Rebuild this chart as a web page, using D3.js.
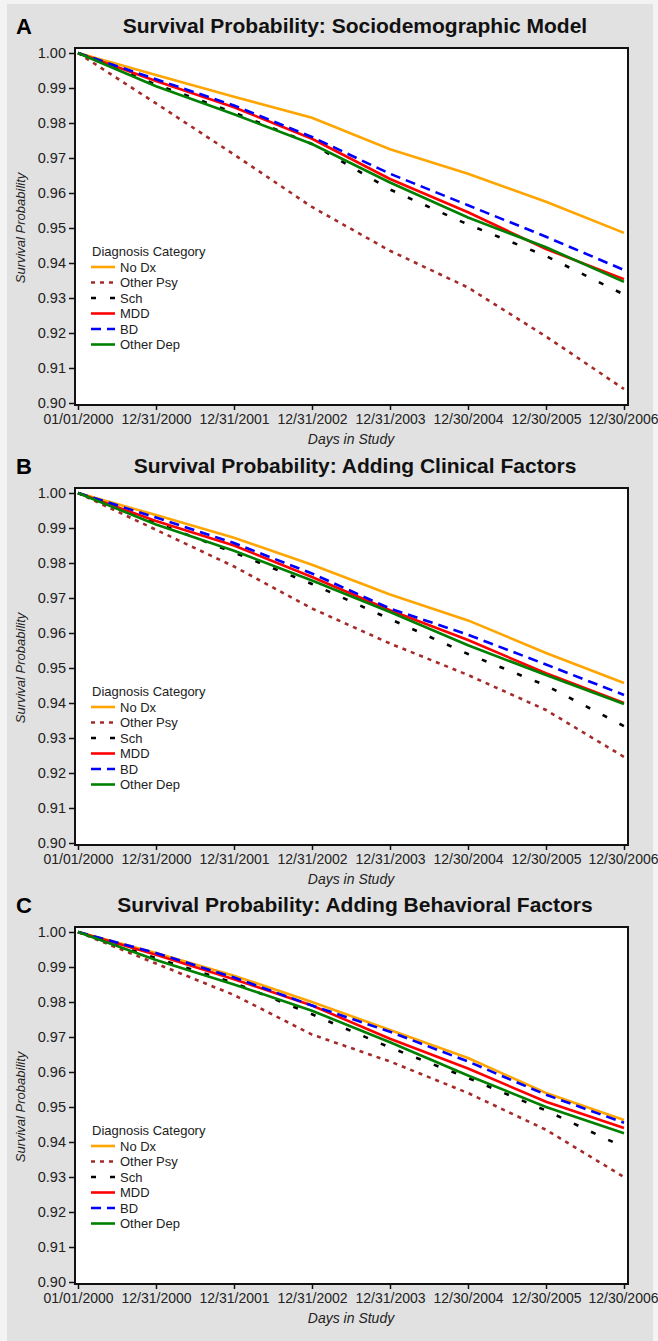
<!DOCTYPE html>
<html>
<head>
<meta charset="utf-8">
<script src="https://cdn.jsdelivr.net/npm/d3@7"></script>
<style>
  body { margin: 0; background: #f3f3f3; }
  svg { display: block; font-family: "Liberation Sans", Arial, Helvetica, sans-serif; }
</style>
</head>
<body>
<div id="chart"></div>
<script>
// ---- data ----
var dayTicks = [0, 365, 730, 1095, 1460, 1825, 2190, 2555];
var tickLabels = ["01/01/2000", "12/31/2000", "12/31/2001", "12/31/2002",
                  "12/31/2003", "12/30/2004", "12/30/2005", "12/30/2006"];
var yTicks = [0.90, 0.91, 0.92, 0.93, 0.94, 0.95, 0.96, 0.97, 0.98, 0.99, 1.00];

var categories = ["No Dx", "Other Psy", "Sch", "MDD", "BD", "Other Dep"];
var panelLetters = ["A", "B", "C"];
var panelTitles = ["Survival Probability: Sociodemographic Model",
                   "Survival Probability: Adding Clinical Factors",
                   "Survival Probability: Adding Behavioral Factors"];

// survival probability at each tick date, one array per category
var noDxA     = [1.000, 0.9937, 0.9875, 0.9815, 0.9725, 0.9655, 0.9575, 0.9486];
var otherPsyA = [1.000, 0.9856, 0.9710, 0.9560, 0.9435, 0.9330, 0.9190, 0.9040];
var schA      = [1.000, 0.9910, 0.9830, 0.9740, 0.9610, 0.9510, 0.9420, 0.9310];
var mddA      = [1.000, 0.9920, 0.9845, 0.9755, 0.9640, 0.9545, 0.9440, 0.9354];
var bdA       = [1.000, 0.9925, 0.9850, 0.9760, 0.9655, 0.9565, 0.9475, 0.9380];
var otherDepA = [1.000, 0.9905, 0.9825, 0.9740, 0.9630, 0.9530, 0.9445, 0.9346];

var noDxB     = [1.000, 0.9937, 0.9872, 0.9795, 0.9710, 0.9636, 0.9543, 0.9457];
var otherPsyB = [1.000, 0.9895, 0.9790, 0.9670, 0.9570, 0.9480, 0.9380, 0.9246];
var schB      = [1.000, 0.9915, 0.9830, 0.9740, 0.9640, 0.9540, 0.9450, 0.9334];
var mddB      = [1.000, 0.9920, 0.9850, 0.9760, 0.9665, 0.9580, 0.9485, 0.9400];
var bdB       = [1.000, 0.9930, 0.9857, 0.9770, 0.9670, 0.9595, 0.9510, 0.9423];
var otherDepB = [1.000, 0.9910, 0.9835, 0.9750, 0.9660, 0.9565, 0.9480, 0.9397];

var noDxC     = [1.000, 0.9940, 0.9875, 0.9800, 0.9720, 0.9640, 0.9540, 0.9463];
var otherPsyC = [1.000, 0.9910, 0.9820, 0.9707, 0.9630, 0.9540, 0.9435, 0.9300];
var schC      = [1.000, 0.9925, 0.9855, 0.9765, 0.9670, 0.9583, 0.9490, 0.9385];
var mddC      = [1.000, 0.9935, 0.9865, 0.9790, 0.9695, 0.9610, 0.9515, 0.9440];
var bdC       = [1.000, 0.9940, 0.9870, 0.9790, 0.9715, 0.9630, 0.9535, 0.9455];
var otherDepC = [1.000, 0.9920, 0.9850, 0.9775, 0.9685, 0.9590, 0.9500, 0.9425];

var panelSeries = [
  [noDxA, otherPsyA, schA, mddA, bdA, otherDepA],
  [noDxB, otherPsyB, schB, mddB, bdB, otherDepB],
  [noDxC, otherPsyC, schC, mddC, bdC, otherDepC]
];

// ---- styling ----
var lineStyles = [
  {color: "#ffa500", dash: null},
  {color: "#a52a2a", dash: "4,5"},
  {color: "#000000", dash: "5,14"},
  {color: "#ff0000", dash: null},
  {color: "#0000ff", dash: "10,6"},
  {color: "#008000", dash: null}
];

var width = 658, height = 1341;
var panelOffsets = [0, 440, 879];

var svg = d3.select("#chart").append("svg")
    .attr("width", width)
    .attr("height", height);

svg.append("rect")
    .attr("x", 7).attr("y", 4)
    .attr("width", 646).attr("height", height - 4)
    .attr("fill", "#e1e1e1");

var x = d3.scaleLinear().domain([0, 2555]).range([78, 624]);

panelSeries.forEach(function(series, p) {
  var oy = panelOffsets[p];
  var g = svg.append("g");
  var y = d3.scaleLinear().domain([0.90, 1.00]).range([oy + 403, oy + 53]);

  // plot frame
  g.append("rect")
      .attr("x", 75).attr("y", oy + 48)
      .attr("width", 553).attr("height", 357)
      .attr("fill", "#fff")
      .attr("stroke", "#111")
      .attr("stroke-width", 2);

  // panel letter + title
  g.append("text")
      .attr("x", 16).attr("y", oy + 34)
      .attr("font-size", 22).attr("font-weight", "bold")
      .text(panelLetters[p]);
  g.append("text")
      .attr("x", 355).attr("y", oy + 33)
      .attr("text-anchor", "middle")
      .attr("font-size", 21).attr("font-weight", "bold")
      .attr("fill", "#111")
      .text(panelTitles[p]);

  // axes
  var yAxis = g.append("g")
      .attr("transform", "translate(75,0)")
      .call(d3.axisLeft(y).tickValues(yTicks).tickFormat(d3.format(".2f")).tickSize(6).tickPadding(3));
  yAxis.select(".domain").remove();
  yAxis.selectAll("text").attr("font-size", 14.5).attr("fill", "#222").style("font-family", "inherit");
  yAxis.selectAll("line").attr("stroke", "#111").attr("stroke-width", 1.5);

  var xAxis = g.append("g")
      .attr("transform", "translate(0," + (oy + 405) + ")")
      .call(d3.axisBottom(x).tickValues(dayTicks)
        .tickFormat(function(d, i) { return tickLabels[i]; })
        .tickSize(5).tickPadding(4));
  xAxis.select(".domain").remove();
  xAxis.selectAll("text").attr("font-size", 14).attr("fill", "#222").style("font-family", "inherit");
  xAxis.selectAll("line").attr("stroke", "#111").attr("stroke-width", 1.5);
  // last label sits against the right edge of the page
  xAxis.selectAll(".tick").filter(function(d, i) { return i === dayTicks.length - 1; })
      .select("text").attr("text-anchor", "end").attr("x", 34);

  // axis titles
  g.append("text")
      .attr("x", 351).attr("y", oy + 444)
      .attr("text-anchor", "middle")
      .attr("font-size", 14).attr("font-style", "italic")
      .attr("fill", "#222")
      .text("Days in Study");
  g.append("text")
      .attr("transform", "translate(25," + (oy + 228) + ") rotate(-90)")
      .attr("text-anchor", "middle")
      .attr("font-size", 13).attr("font-style", "italic")
      .attr("fill", "#222")
      .text("Survival Probability");

  // survival curves
  var line = d3.line()
      .x(function(d, i) { return x(dayTicks[i]); })
      .y(function(d) { return y(d); });

  g.selectAll(".curve")
    .data(series).enter().append("path")
      .attr("class", "curve")
      .attr("d", line)
      .attr("fill", "none")
      .attr("stroke", function(d, i) { return lineStyles[i].color; })
      .attr("stroke-width", 2.6)
      .attr("stroke-dasharray", function(d, i) { return lineStyles[i].dash; });

  // legend
  var lg = g.append("g").attr("transform", "translate(91," + (oy + 256) + ")");
  lg.append("text")
      .attr("x", 1).attr("y", 0)
      .attr("font-size", 13).attr("fill", "#222")
      .text("Diagnosis Category");
  var item = lg.selectAll(".item")
    .data(categories).enter().append("g")
      .attr("class", "item")
      .attr("transform", function(d, i) { return "translate(0," + (11 + i * 15.5) + ")"; });
  item.append("line")
      .attr("x1", 0).attr("x2", 24)
      .attr("stroke", function(d, i) { return lineStyles[i].color; })
      .attr("stroke-width", 2.6)
      .attr("stroke-dasharray", function(d, i) { return lineStyles[i].dash; });
  item.append("text")
      .attr("x", 29).attr("y", 4.5)
      .attr("font-size", 13).attr("fill", "#222")
      .text(function(d) { return d; });
});
</script>
</body>
</html>
